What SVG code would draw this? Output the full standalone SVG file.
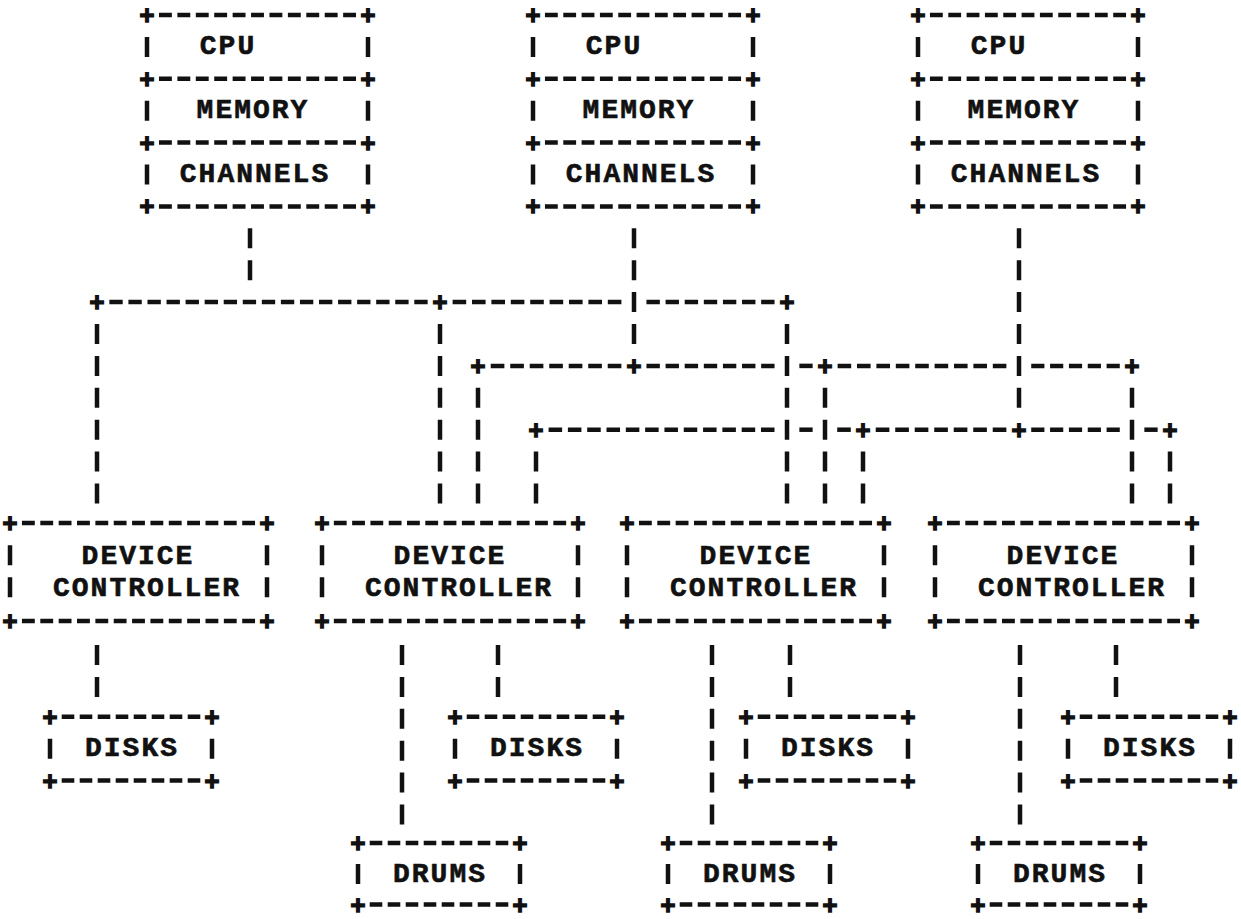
<svg xmlns="http://www.w3.org/2000/svg" width="1241" height="919" viewBox="0 0 1241 919">
<style>
.h{fill:none;stroke:#111;stroke-width:4.5}
.v{fill:none;stroke:#111;stroke-width:4.5;stroke-dasharray:20 11.9}
.s2{fill:none;stroke:#111;stroke-width:4.5;stroke-dasharray:20 43.8}
.pl{font-family:"DejaVu Sans Mono","Liberation Mono",monospace;font-weight:bold;font-size:24px;fill:#111;stroke:#111;stroke-width:1.3;text-anchor:middle;dominant-baseline:central}
.lb{font-family:"Liberation Mono","DejaVu Sans Mono",monospace;font-weight:bold;font-size:28px;letter-spacing:2px;fill:#111;stroke:#111;stroke-width:0.6;text-anchor:middle;dominant-baseline:central}
</style>
<rect width="1241" height="919" fill="#fff"/>

<!-- CPU nodes -->
<g id="cpu1">
 <g class="h" stroke-dasharray="0.7 0.3" stroke-dashoffset="0.85">
  <path d="M156.2 15H358.8" pathLength="11"/><path d="M156.2 78.8H358.8" pathLength="11"/>
  <path d="M156.2 142.6H358.8" pathLength="11"/><path d="M156.2 206.4H358.8" pathLength="11"/>
 </g>
 <path class="s2" d="M147 36.9V184.5M368 36.9V184.5"/>
 <text class="pl" x="147" y="15">+</text><text class="pl" x="368" y="15">+</text>
 <text class="pl" x="147" y="78.8">+</text><text class="pl" x="368" y="78.8">+</text>
 <text class="pl" x="147" y="142.6">+</text><text class="pl" x="368" y="142.6">+</text>
 <text class="pl" x="147" y="206.4">+</text><text class="pl" x="368" y="206.4">+</text>
 <text class="lb" x="228" y="46.9">CPU</text>
 <text class="lb" x="253" y="110.7">MEMORY</text>
 <text class="lb" x="255" y="174.5">CHANNELS</text>
</g>
<g id="cpu2">
 <g class="h" stroke-dasharray="0.7 0.3" stroke-dashoffset="0.85">
  <path d="M542.2 15H743.8" pathLength="11"/><path d="M542.2 78.8H743.8" pathLength="11"/>
  <path d="M542.2 142.6H743.8" pathLength="11"/><path d="M542.2 206.4H743.8" pathLength="11"/>
 </g>
 <path class="s2" d="M533 36.9V184.5M753 36.9V184.5"/>
 <text class="pl" x="533" y="15">+</text><text class="pl" x="753" y="15">+</text>
 <text class="pl" x="533" y="78.8">+</text><text class="pl" x="753" y="78.8">+</text>
 <text class="pl" x="533" y="142.6">+</text><text class="pl" x="753" y="142.6">+</text>
 <text class="pl" x="533" y="206.4">+</text><text class="pl" x="753" y="206.4">+</text>
 <text class="lb" x="614" y="46.9">CPU</text>
 <text class="lb" x="639" y="110.7">MEMORY</text>
 <text class="lb" x="641" y="174.5">CHANNELS</text>
</g>
<g id="cpu3">
 <g class="h" stroke-dasharray="0.7 0.3" stroke-dashoffset="0.85">
  <path d="M927.2 15H1128.8" pathLength="11"/><path d="M927.2 78.8H1128.8" pathLength="11"/>
  <path d="M927.2 142.6H1128.8" pathLength="11"/><path d="M927.2 206.4H1128.8" pathLength="11"/>
 </g>
 <path class="s2" d="M918 36.9V184.5M1138 36.9V184.5"/>
 <text class="pl" x="918" y="15">+</text><text class="pl" x="1138" y="15">+</text>
 <text class="pl" x="918" y="78.8">+</text><text class="pl" x="1138" y="78.8">+</text>
 <text class="pl" x="918" y="142.6">+</text><text class="pl" x="1138" y="142.6">+</text>
 <text class="pl" x="918" y="206.4">+</text><text class="pl" x="1138" y="206.4">+</text>
 <text class="lb" x="999" y="46.9">CPU</text>
 <text class="lb" x="1024" y="110.7">MEMORY</text>
 <text class="lb" x="1026" y="174.5">CHANNELS</text>
</g>

<!-- Device controllers -->
<g id="ctrl1">
 <g class="h" stroke-dasharray="0.7 0.3" stroke-dashoffset="0.85">
  <path d="M19.2 523H257.8" pathLength="13"/><path d="M19.2 621.1H257.8" pathLength="13"/>
 </g>
 <path class="v" d="M10 545.3V598.2M267 545.3V598.2"/>
 <text class="pl" x="10" y="523">+</text><text class="pl" x="267" y="523">+</text>
 <text class="pl" x="10" y="621.1">+</text><text class="pl" x="267" y="621.1">+</text>
 <text class="lb" x="138" y="556">DEVICE</text>
 <text class="lb" x="147" y="588.2">CONTROLLER</text>
</g>
<g id="ctrl2">
 <g class="h" stroke-dasharray="0.7 0.3" stroke-dashoffset="0.85">
  <path d="M331.1 523H568.9" pathLength="13"/><path d="M331.1 621.1H568.9" pathLength="13"/>
 </g>
 <path class="v" d="M322 545.3V598.2M578 545.3V598.2"/>
 <text class="pl" x="322" y="523">+</text><text class="pl" x="578" y="523">+</text>
 <text class="pl" x="322" y="621.1">+</text><text class="pl" x="578" y="621.1">+</text>
 <text class="lb" x="450" y="556">DEVICE</text>
 <text class="lb" x="459" y="588.2">CONTROLLER</text>
</g>
<g id="ctrl3">
 <g class="h" stroke-dasharray="0.7 0.3" stroke-dashoffset="0.85">
  <path d="M636.2 523H874.8" pathLength="13"/><path d="M636.2 621.1H874.8" pathLength="13"/>
 </g>
 <path class="v" d="M627 545.3V598.2M884 545.3V598.2"/>
 <text class="pl" x="627" y="523">+</text><text class="pl" x="884" y="523">+</text>
 <text class="pl" x="627" y="621.1">+</text><text class="pl" x="884" y="621.1">+</text>
 <text class="lb" x="756" y="556">DEVICE</text>
 <text class="lb" x="764" y="588.2">CONTROLLER</text>
</g>
<g id="ctrl4">
 <g class="h" stroke-dasharray="0.7 0.3" stroke-dashoffset="0.85">
  <path d="M944.2 523H1182.8" pathLength="13"/><path d="M944.2 621.1H1182.8" pathLength="13"/>
 </g>
 <path class="v" d="M935 545.3V598.2M1192 545.3V598.2"/>
 <text class="pl" x="935" y="523">+</text><text class="pl" x="1192" y="523">+</text>
 <text class="pl" x="935" y="621.1">+</text><text class="pl" x="1192" y="621.1">+</text>
 <text class="lb" x="1063" y="556">DEVICE</text>
 <text class="lb" x="1072" y="588.2">CONTROLLER</text>
</g>

<!-- Disks -->
<g id="disks1">
 <g class="h" stroke-dasharray="0.7 0.3" stroke-dashoffset="0.85">
  <path d="M59 716.8H203" pathLength="8"/><path d="M59 780.6H203" pathLength="8"/>
 </g>
 <path class="v" d="M50 738.7V758.7M212 738.7V758.7"/>
 <text class="pl" x="50" y="716.8">+</text><text class="pl" x="212" y="716.8">+</text>
 <text class="pl" x="50" y="780.6">+</text><text class="pl" x="212" y="780.6">+</text>
 <text class="lb" x="132" y="748.7">DISKS</text>
</g>
<g id="disks2">
 <g class="h" stroke-dasharray="0.7 0.3" stroke-dashoffset="0.85">
  <path d="M464 716.8H608" pathLength="8"/><path d="M464 780.6H608" pathLength="8"/>
 </g>
 <path class="v" d="M455 738.7V758.7M617 738.7V758.7"/>
 <text class="pl" x="455" y="716.8">+</text><text class="pl" x="617" y="716.8">+</text>
 <text class="pl" x="455" y="780.6">+</text><text class="pl" x="617" y="780.6">+</text>
 <text class="lb" x="537" y="748.7">DISKS</text>
</g>
<g id="disks3">
 <g class="h" stroke-dasharray="0.7 0.3" stroke-dashoffset="0.85">
  <path d="M755 716.8H899" pathLength="8"/><path d="M755 780.6H899" pathLength="8"/>
 </g>
 <path class="v" d="M746 738.7V758.7M908 738.7V758.7"/>
 <text class="pl" x="746" y="716.8">+</text><text class="pl" x="908" y="716.8">+</text>
 <text class="pl" x="746" y="780.6">+</text><text class="pl" x="908" y="780.6">+</text>
 <text class="lb" x="828" y="748.7">DISKS</text>
</g>
<g id="disks4">
 <g class="h" stroke-dasharray="0.7 0.3" stroke-dashoffset="0.85">
  <path d="M1077 716.8H1221" pathLength="8"/><path d="M1077 780.6H1221" pathLength="8"/>
 </g>
 <path class="v" d="M1068 738.7V758.7M1230 738.7V758.7"/>
 <text class="pl" x="1068" y="716.8">+</text><text class="pl" x="1230" y="716.8">+</text>
 <text class="pl" x="1068" y="780.6">+</text><text class="pl" x="1230" y="780.6">+</text>
 <text class="lb" x="1150" y="748.7">DISKS</text>
</g>

<!-- Drums -->
<g id="drums1">
 <g class="h" stroke-dasharray="0.7 0.3" stroke-dashoffset="0.85">
  <path d="M367 843H511" pathLength="8"/><path d="M367 904.5H511" pathLength="8"/>
 </g>
 <path class="v" d="M358 864V884M520 864V884"/>
 <text class="pl" x="358" y="843">+</text><text class="pl" x="520" y="843">+</text>
 <text class="pl" x="358" y="904.5">+</text><text class="pl" x="520" y="904.5">+</text>
 <text class="lb" x="440" y="874">DRUMS</text>
</g>
<g id="drums2">
 <g class="h" stroke-dasharray="0.7 0.3" stroke-dashoffset="0.85">
  <path d="M677 843H821" pathLength="8"/><path d="M677 904.5H821" pathLength="8"/>
 </g>
 <path class="v" d="M668 864V884M830 864V884"/>
 <text class="pl" x="668" y="843">+</text><text class="pl" x="830" y="843">+</text>
 <text class="pl" x="668" y="904.5">+</text><text class="pl" x="830" y="904.5">+</text>
 <text class="lb" x="750" y="874">DRUMS</text>
</g>
<g id="drums3">
 <g class="h" stroke-dasharray="0.7 0.3" stroke-dashoffset="0.85">
  <path d="M987 843H1131" pathLength="8"/><path d="M987 904.5H1131" pathLength="8"/>
 </g>
 <path class="v" d="M978 864V884M1140 864V884"/>
 <text class="pl" x="978" y="843">+</text><text class="pl" x="1140" y="843">+</text>
 <text class="pl" x="978" y="904.5">+</text><text class="pl" x="1140" y="904.5">+</text>
 <text class="lb" x="1060" y="874">DRUMS</text>
</g>

<!-- Connectors -->
<g id="connectors">
 <g class="h" stroke-dasharray="0.7 0.3" stroke-dashoffset="0.85">
  <path d="M106.5 302.1H430.5" pathLength="17"/>
  <path d="M449.7 302.1H624.3" pathLength="9"/>
  <path d="M643.6 302.1H777.4" pathLength="7"/>
  <path d="M487.8 365.9H624.3" pathLength="7"/>
  <path d="M643.6 365.9H777.4" pathLength="7"/>
  <path d="M796.5 365.9H815.5" pathLength="1"/>
  <path d="M834.7 365.9H1009.3" pathLength="9"/>
  <path d="M1028.4 365.9H1122.6" pathLength="5"/>
  <path d="M545.7 429.7H777.4" pathLength="12"/>
  <path d="M796.5 429.7H815.5" pathLength="1"/>
  <path d="M834.3 429.7H853.7" pathLength="1"/>
  <path d="M872.8 429.7H1009.3" pathLength="7"/>
  <path d="M1028.4 429.7H1122.6" pathLength="5"/>
  <path d="M1141.5 429.7H1160.5" pathLength="1"/>
 </g>
 <path class="v" d="M250 228.3V280.2M634 228.3V344M1019 228.3V407.8"/>
 <path class="v" d="M97 324V503.5M440 324V503.5M787 324V503.5"/>
 <path class="v" d="M478 387.8V503.5M825 387.8V503.5M1132 387.8V503.5"/>
 <path class="v" d="M536 451.6V503.5M863 451.6V503.5M1170 451.6V503.5"/>
 <path class="v" d="M97 645V696.9M498 645V696.9M790 645V696.9M1116 645V696.9"/>
 <path class="v" d="M402 645V824.5M712 645V824.5M1020 645V824.5"/>
 <text class="pl" x="97" y="302.1">+</text><text class="pl" x="440" y="302.1">+</text><text class="pl" x="787" y="302.1">+</text>
 <text class="pl" x="478" y="365.9">+</text><text class="pl" x="634" y="365.9">+</text><text class="pl" x="825" y="365.9">+</text><text class="pl" x="1132" y="365.9">+</text>
 <text class="pl" x="536" y="429.7">+</text><text class="pl" x="863" y="429.7">+</text><text class="pl" x="1019" y="429.7">+</text><text class="pl" x="1170" y="429.7">+</text>
</g>
</svg>
